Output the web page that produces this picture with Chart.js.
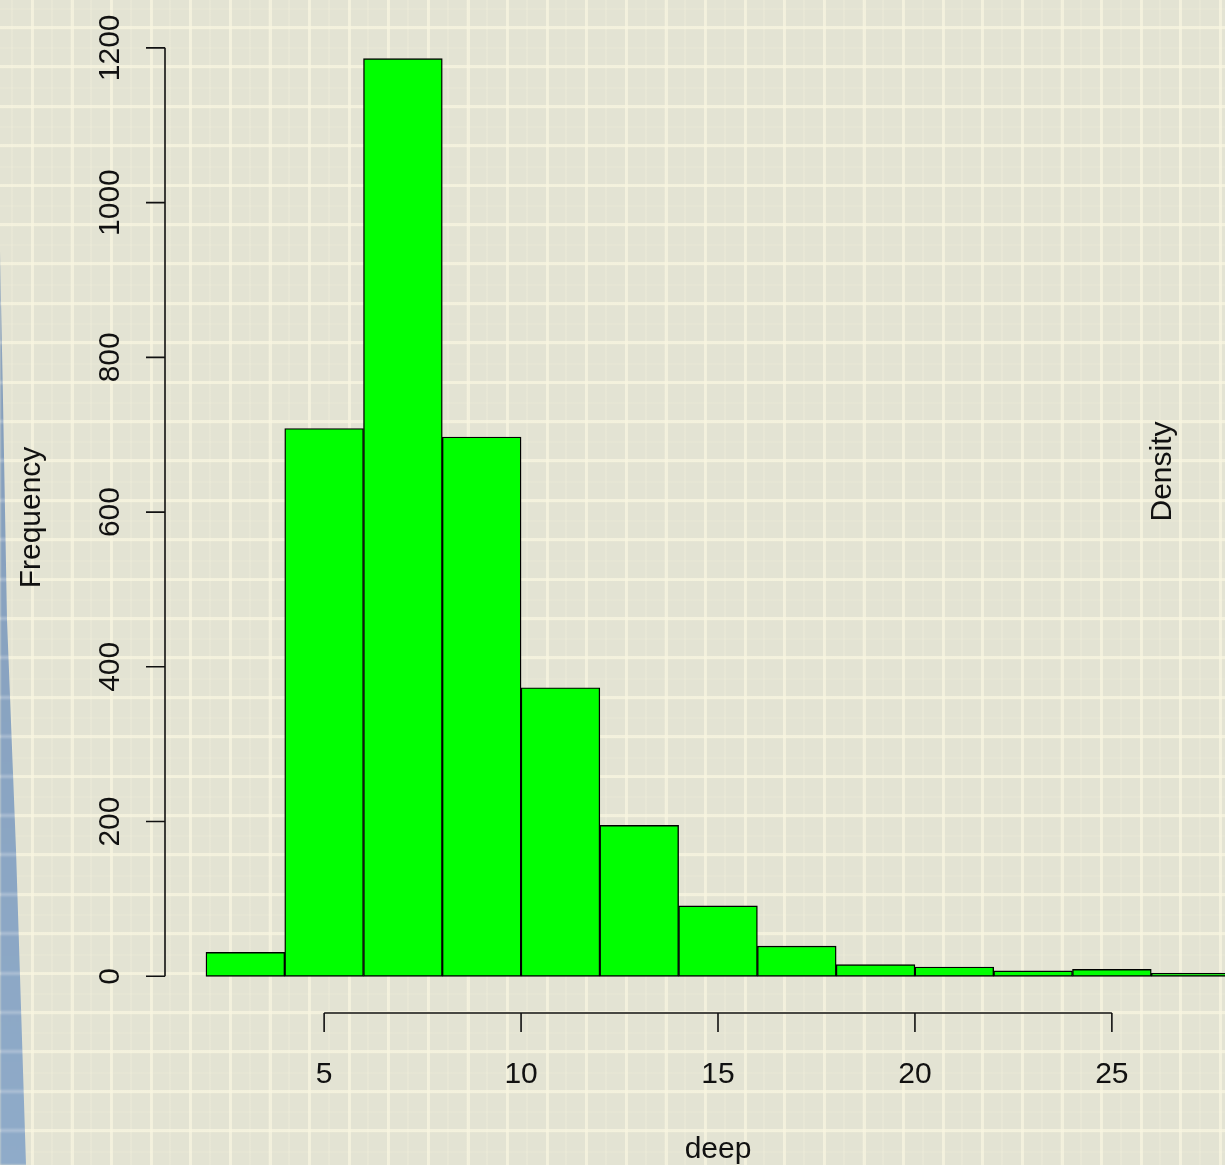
<!DOCTYPE html>
<html>
<head>
<meta charset="utf-8">
<title>deep</title>
<script src="https://cdn.jsdelivr.net/npm/chart.js@4/dist/chart.umd.min.js"></script>
<style>
  html, body { margin: 0; padding: 0; overflow: hidden; width: 1225px; height: 1165px; }
  #paper {
    position: relative; width: 1225px; height: 1165px; overflow: hidden;
    background-color: #e3e3d3;
  }
  #grid {
    position: absolute; left: -10px; top: -10px; width: 1245px; height: 1185px;
    background-position: 10px 10px;
    background-image:
      repeating-linear-gradient(to bottom, rgba(0,0,0,0) 0px, rgba(0,0,0,0) 26px, rgba(248,245,224,0.75) 26px, rgba(248,245,224,0.75) 29px, rgba(0,0,0,0) 29px, rgba(0,0,0,0) 39.4px),
      repeating-linear-gradient(to right, rgba(0,0,0,0) 0px, rgba(0,0,0,0) 31px, rgba(248,245,224,0.7) 31px, rgba(248,245,224,0.7) 34px, rgba(0,0,0,0) 34px, rgba(0,0,0,0) 39.6px),
      repeating-linear-gradient(to right, rgba(0,0,0,0) 0px, rgba(0,0,0,0) 11px, rgba(244,241,220,0.3) 11px, rgba(244,241,220,0.3) 13px, rgba(0,0,0,0) 13px, rgba(0,0,0,0) 19.8px),
      repeating-linear-gradient(to bottom, rgba(0,0,0,0) 0px, rgba(0,0,0,0) 8px, rgba(244,241,220,0.2) 8px, rgba(244,241,220,0.2) 10px, rgba(0,0,0,0) 10px, rgba(0,0,0,0) 19.7px);
    filter: blur(0.7px);
  }
  #edge {
    position: absolute; left: 0; top: 0; width: 34px; height: 1165px;
    background-color: #8aa3c0;
    background-image:
      repeating-linear-gradient(to bottom, rgba(0,0,0,0) 0px, rgba(0,0,0,0) 26px, rgba(205,215,228,0.5) 26px, rgba(205,215,228,0.5) 29px, rgba(0,0,0,0) 29px, rgba(0,0,0,0) 39.4px),
      linear-gradient(to bottom, #8199b6, #8fabc9);
    clip-path: polygon(0 250px, 3px 400px, 7px 620px, 16px 850px, 26px 1165px, 0 1165px);
    filter: blur(0.8px);
  }
  #chart { position: absolute; left: 0; top: 0; }
</style>
</head>
<body>
<div id="paper">
  <div id="grid"></div>
  <div id="edge"></div>
  <canvas id="chart" width="1300" height="1165"></canvas>
</div>
<script>
// Histogram of "deep": bin edges and the count in each bin
const breaks = [2, 4, 6, 8, 10, 12, 14, 16, 18, 20, 22, 24, 26, 28];
const counts = [31, 708, 1186, 697, 373, 195, 91, 39, 15, 12, 7, 9, 4];

// Axis ticks and titles
const xTickValues = [5, 10, 15, 20, 25];
const yTickValues = [0, 200, 400, 600, 800, 1000, 1200];
const xTitle = 'deep';
const yTitle = 'Frequency';
const rightTitle = 'Density';

// Axis limits padded by 4% on each side, like base R graphics
const xLo = breaks[0], xHi = breaks[breaks.length - 1];
const yHi = Math.max(...counts);
const xPad = (xHi - xLo) * 0.04;
const yPad = yHi * 0.04;

const binPoints = counts.map((c, i) => ({ x: (breaks[i] + breaks[i + 1]) / 2, y: c }));

const FONT = '30px "Liberation Sans", Arial, Helvetica, sans-serif';
const INK = '#111111';

// Draws the R-style axes (line spanning the tick range, outward ticks, rotated y labels)
const baseAxes = {
  id: 'baseAxes',
  afterDraw(chart) {
    const ctx = chart.ctx;
    const xs = chart.scales.x, ys = chart.scales.y;
    const area = chart.chartArea;
    const tick = 19;
    ctx.save();
    ctx.strokeStyle = INK;
    ctx.fillStyle = INK;
    ctx.lineWidth = 1.6;
    ctx.font = FONT;

    // y axis
    const ax = area.left;
    const yTop = ys.getPixelForValue(yTickValues[yTickValues.length - 1]);
    const yBot = ys.getPixelForValue(yTickValues[0]);
    ctx.beginPath();
    ctx.moveTo(ax, yTop); ctx.lineTo(ax, yBot);
    yTickValues.forEach(v => {
      const p = ys.getPixelForValue(v);
      ctx.moveTo(ax - tick, p); ctx.lineTo(ax, p);
    });
    ctx.stroke();
    ctx.textAlign = 'center';
    ctx.textBaseline = 'alphabetic';
    yTickValues.forEach(v => {
      const p = ys.getPixelForValue(v);
      ctx.save();
      ctx.translate(ax - 46, p);
      ctx.rotate(-Math.PI / 2);
      ctx.fillText(String(v), 0, 0);
      ctx.restore();
    });

    // x axis
    const ay = area.bottom;
    const xL = xs.getPixelForValue(xTickValues[0]);
    const xR = xs.getPixelForValue(xTickValues[xTickValues.length - 1]);
    ctx.beginPath();
    ctx.moveTo(xL, ay); ctx.lineTo(xR, ay);
    xTickValues.forEach(v => {
      const p = xs.getPixelForValue(v);
      ctx.moveTo(p, ay); ctx.lineTo(p, ay + tick);
    });
    ctx.stroke();
    xTickValues.forEach(v => {
      ctx.fillText(String(v), xs.getPixelForValue(v), ay + 70);
    });

    // titles
    ctx.fillText(xTitle, (area.left + area.right) / 2, ay + 145);
    const midY = (area.top + area.bottom) / 2;
    ctx.save();
    ctx.translate(40, midY);
    ctx.rotate(-Math.PI / 2);
    ctx.fillText(yTitle, 0, 0);
    ctx.restore();
    ctx.save();
    ctx.translate(1171, midY - 46);
    ctx.rotate(-Math.PI / 2);
    ctx.fillText(rightTitle, 0, 0);
    ctx.restore();
    ctx.restore();
  }
};

new Chart(document.getElementById('chart'), {
  type: 'bar',
  data: {
    datasets: [{
      data: binPoints,
      backgroundColor: '#00ff00',
      borderColor: '#000000',
      borderWidth: 1.4,
      borderSkipped: false,
      barPercentage: 1,
      categoryPercentage: 1
    }]
  },
  options: {
    responsive: false,
    animation: false,
    devicePixelRatio: 1,
    layout: { padding: { left: 165, right: 29, top: 22, bottom: 152 } },
    plugins: { legend: { display: false }, tooltip: { enabled: false }, title: { display: false } },
    scales: {
      x: {
        type: 'linear',
        display: false,
        offset: false,
        min: xLo - xPad,
        max: xHi + xPad,
        afterBuildTicks(scale) { scale.ticks = breaks.map(v => ({ value: v })); }
      },
      y: {
        display: false,
        min: -yPad,
        max: yHi + yPad
      }
    }
  },
  plugins: [baseAxes]
});
</script>
</body>
</html>
